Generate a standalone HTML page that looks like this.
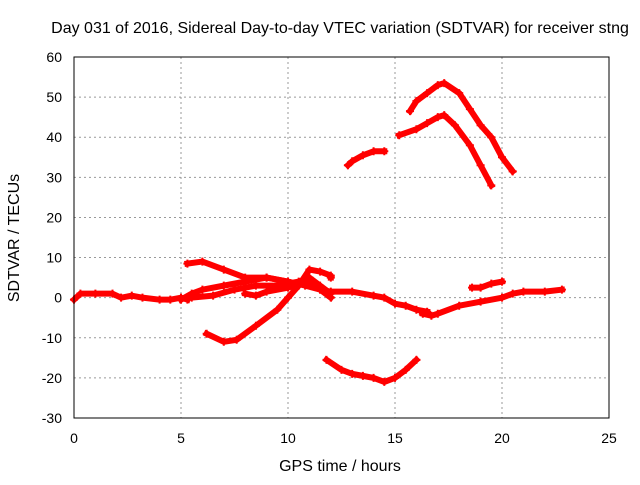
<!DOCTYPE html>
<html><head><meta charset="utf-8"><style>
body{margin:0;background:#fff;}
svg{font-family:"Liberation Sans",sans-serif;}
</style></head><body>
<svg id="chart" width="640" height="480">
<rect width="640" height="480" fill="#fff"/>
<text x="340" y="33" text-anchor="middle" font-size="16">Day 031 of 2016, Sidereal Day-to-day VTEC variation (SDTVAR) for receiver stng</text>
<text x="340" y="471" text-anchor="middle" font-size="16">GPS time / hours</text>
<text transform="translate(19,238) rotate(-90)" text-anchor="middle" font-size="16">SDTVAR / TECUs</text>
<g id="grid"></g><g id="marks"></g>
<rect x="74" y="57" width="535" height="361" fill="none" stroke="#000"/>
</svg>
<script>
const xTicks=[0,5,10,15,20,25];
const yTicks=[-30,-20,-10,0,10,20,30,40,50,60];
const traceA=[[0,-0.5],[0.3,1],[1,1],[1.8,1],[2.2,0],[2.7,0.5],[3.2,0],[4,-0.5],[4.5,-0.5],[5,0],[5.3,-0.5]];
const traceB=[[5,-0.5],[5.5,1],[6,2],[7,3],[8,4],[9,5],[10,4],[10.8,3],[11.5,2],[12,1.5],[13,1.5],[14,0.5],[14.5,0],[15,-1.5],[15.5,-2],[16,-3],[16.5,-3.5]];
const traceC=[[5.3,8.5],[6,9],[7,7],[8,5],[9,5],[10,4]];
const traceD=[[5.5,0],[6.5,0.5],[7.5,2],[8.5,3],[9.5,3],[10.5,4],[11,5],[11.5,3],[12,1]];
const traceE=[[8,1],[8.5,0.5],[9,1.5],[10,2.5],[11,4],[11.5,2],[12,0]];
const traceF=[[6.2,-9],[7,-11],[7.6,-10.5],[8.5,-7],[9.5,-3],[10,0],[10.5,3],[11,7],[11.5,6.5],[12,5.5],[12,5]];
const traceG=[[11.8,-15.5],[12.5,-18],[13,-19],[13.5,-19.5],[14,-20],[14.5,-21],[15,-20],[15.5,-18],[16,-15.5]];
const traceH=[[12.8,33],[13,34],[13.5,35.5],[14,36.5],[14.5,36.5]];
const traceI=[[15.2,40.5],[16,42],[16.5,43.5],[17,45],[17.3,45.5],[17.8,43],[18.5,38],[19,33],[19.5,28]];
const traceJ=[[15.7,46.5],[16,49],[16.5,51],[17,53],[17.3,53.5],[18,51],[18.5,47],[19,43],[19.5,40],[20,35],[20.5,31.5]];
const traceK=[[16.3,-4],[16.7,-4.5],[17,-4],[18,-2],[19,-1],[20,0],[20.5,1],[21,1.5],[22,1.5],[22.8,2]];
const traceL=[[18.6,2.5],[19,2.5],[19.5,3.5],[20,4]];
const traces=[traceA,traceB,traceC,traceD,traceE,traceF,traceG,traceH,traceI,traceJ,traceK,traceL];
const X=v=>74+v*535/25, Y=v=>418-(v+30)*361/90;
const NS="http://www.w3.org/2000/svg";
const grid=document.getElementById('grid'), marks=document.getElementById('marks');
function mk(t,a,p){const e=document.createElementNS(NS,t);for(const k in a)e.setAttribute(k,a[k]);p.appendChild(e);return e;}
xTicks.forEach(t=>{
 if(t>0&&t<25){const l=mk('line',{x1:X(t),x2:X(t),y1:57,y2:418,stroke:'#999','stroke-dasharray':'2,3'},grid);
 
 }
 const tx=mk('text',{x:X(t),y:443,'text-anchor':'middle','font-size':14},grid);tx.textContent=t;
 
 
});
yTicks.forEach(t=>{
 if(t>-30&&t<60){const l=mk('line',{x1:74,x2:609,y1:Y(t),y2:Y(t),stroke:'#999','stroke-dasharray':'2,3'},grid);
 
 }
 const tx=mk('text',{x:62,y:Y(t)+5,'text-anchor':'end','font-size':14},grid);tx.textContent=t;
 
 
});
traces.forEach((tr,i)=>{
 const p=mk('polyline',{points:tr.map(d=>X(d[0])+','+Y(d[1])).join(' '),fill:'none',stroke:'#f00','stroke-width':6,'stroke-linejoin':'round','stroke-linecap':'square'},marks);
 
 
 tr.forEach(d=>{
  const m=mk('path',{d:`M${X(d[0])-4},${Y(d[1])}h8M${X(d[0])},${Y(d[1])-4}v8`,stroke:'#f00','stroke-width':2},marks);
  
  
 });
});
</script>
</body></html>
